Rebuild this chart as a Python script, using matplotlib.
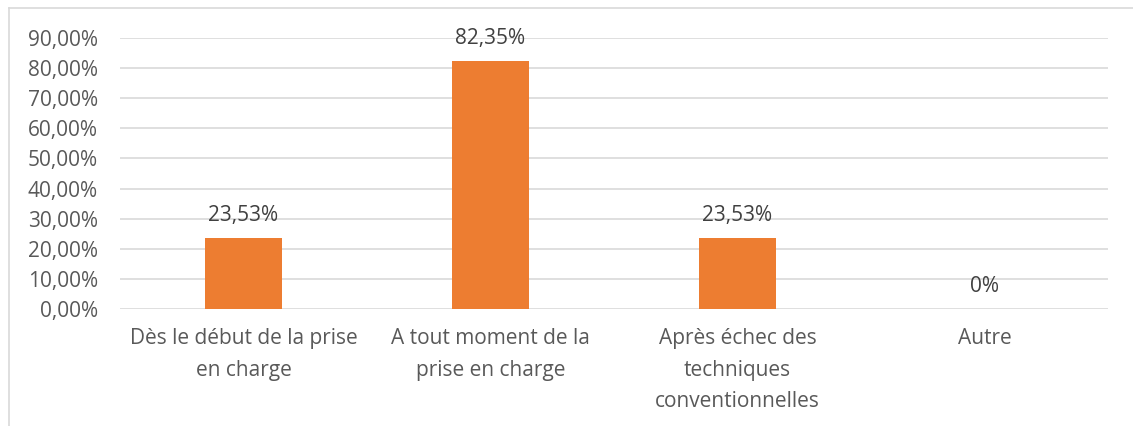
import matplotlib.pyplot as plt
from matplotlib.lines import Line2D

# DATA
categories = ["Dès le début de la prise\nen charge",
              "A tout moment de la\nprise en charge",
              "Après échec des\ntechniques\nconventionnelles",
              "Autre"]
values = [23.53, 82.35, 23.53, 0]
value_labels = ["23,53%", "82,35%", "23,53%", "0%"]
yticks = [0, 10, 20, 30, 40, 50, 60, 70, 80, 90]
ytick_labels = ["%d,00%%" % t for t in yticks]

plt.rcParams['font.family'] = ['Open Sans', 'DejaVu Sans']

W, H = 1133, 426
fig = plt.figure(figsize=(W / 100, H / 100), dpi=100)
ax = fig.add_axes([120 / W, 1 - 309 / H, (1108 - 120) / W, (309 - 38) / H])

x = range(len(categories))
ax.bar(x, values, width=0.31, color='#ED7D31', zorder=3)

# VALUE LABELS ABOVE BARS
for i, v in enumerate(values):
    ax.annotate(value_labels[i], (i, v), xytext=(0, 16.5), textcoords='offset points',
                ha='center', va='center', fontsize=15, color='#404040', zorder=4)

ax.set_xlim(-0.5, 3.5)
ax.set_ylim(0, 90)
ax.set_yticks(yticks)
ax.set_yticklabels(ytick_labels, fontsize=15, color='#595959')
ax.set_xticks(list(x))
ax.set_xticklabels(categories, fontsize=15, color='#595959', linespacing=1.65)
ax.tick_params(axis='both', length=0)
ax.tick_params(axis='y', pad=16)
ax.tick_params(axis='x', pad=14)
ax.grid(axis='y', color='#D9D9D9', linewidth=1.2, zorder=0)
for s in ax.spines.values():
    s.set_visible(False)

# CHART FRAME (top and left edges visible)
fig.add_artist(Line2D([9 / W, 1], [1 - 8 / H, 1 - 8 / H], color='#D9D9D9', linewidth=1.2))
fig.add_artist(Line2D([9 / W, 9 / W], [1 - 8 / H, 0], color='#D9D9D9', linewidth=1.2))

fig.savefig('out.png', dpi=100)
